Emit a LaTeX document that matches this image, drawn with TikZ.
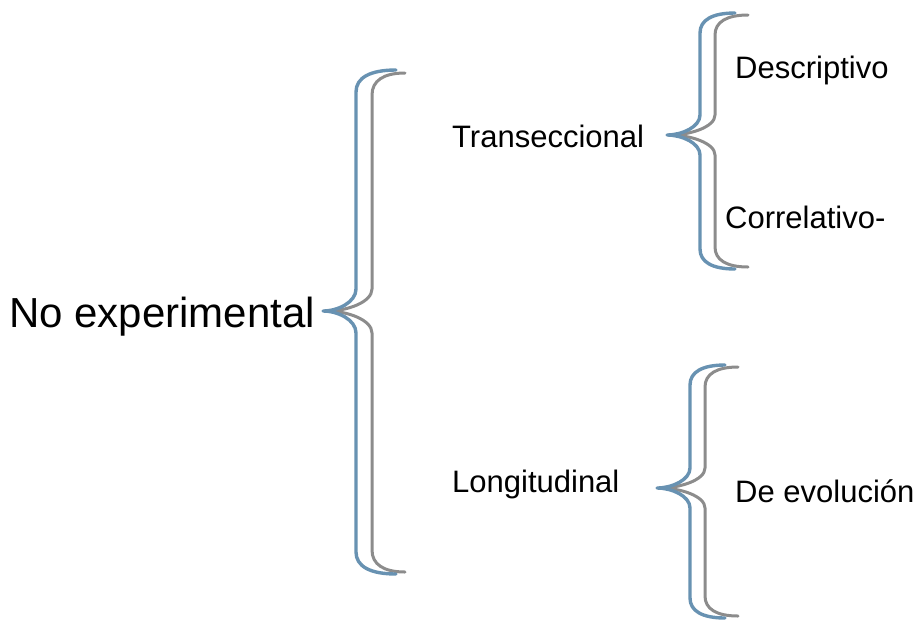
\documentclass[tikz,border=0pt]{standalone}
\usepackage{fontspec}
\setmainfont{Liberation Sans}
\definecolor{braceblue}{RGB}{104,146,178}
\definecolor{bracegray}{RGB}{140,140,140}
\newcommand\brc[8]{%
\draw[#1] (#3,#4) .. controls ({#2+0.35*(#3-#2)},#4) and (#2,{#4+0.35*#8}) .. (#2,{#4+#8})
  -- (#2,{#7-#8}) .. controls (#2,{#7-0.4*#8}) and ({#6+0.45*(#2-#6)},#7) .. (#6,#7)
  .. controls ({#6+0.45*(#2-#6)},#7) and (#2,{#7+0.4*#8}) .. (#2,{#7+#8})
  -- (#2,{#5-#8}) .. controls (#2,{#5-0.35*#8}) and ({#2+0.35*(#3-#2)},#5) .. (#3,#5);}
\tikzset{
  bluebr/.style={draw=braceblue,line width=3.4pt,line cap=round,line join=round},
  graybr/.style={draw=bracegray,line width=3pt,line cap=round,line join=round},
  big/.style={inner sep=0pt,anchor=base west,font=\fontsize{42}{50}\selectfont},
  lbl/.style={inner sep=0pt,anchor=base west,font=\fontsize{31}{37}\selectfont}
}
\begin{document}
\begin{tikzpicture}[x=1pt,y=-1pt]
\path[use as bounding box,fill=white] (0,0) rectangle (921,625);
% braces: style, xv, xend, ytop, ybot, xtip, ytip, r
\brc{graybr}{372}{405}{73}{572}{327}{311}{22}
\brc{bluebr}{356}{396}{70}{574}{323}{311}{22}
\brc{graybr}{715}{748}{15}{267}{670}{135}{20}
\brc{bluebr}{700}{735}{13}{269}{667}{135}{20}
\brc{graybr}{705}{738}{367}{616}{660}{488}{20}
\brc{bluebr}{690}{725}{365}{618}{657}{488}{20}
% labels
\node[big] (noexp) at (9,327) {No experimental};
\node[lbl] (trans) at (452,147) {Transeccional};
\node[lbl] (desc) at (735,78) {Descriptivo};
\node[lbl] (corr) at (725,228) {Correlativo-};
\node[lbl] (longi) at (452,492) {Longitudinal};
\node[lbl] (evol) at (735,502) {De evolución};
\end{tikzpicture}
\end{document}
